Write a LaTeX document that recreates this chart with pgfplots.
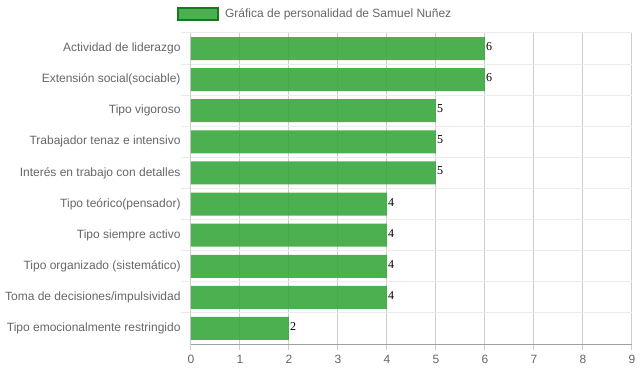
\documentclass[border=0pt]{standalone}
\usepackage{fontspec}
\setmainfont{Liberation Sans}
\newfontfamily\serifv{Liberation Serif}
\usepackage{pgfplots}
\pgfplotsset{compat=1.18}
\definecolor{barc}{RGB}{76,175,80}
\definecolor{barct}{RGB}{56,166,61}
\definecolor{legb}{RGB}{24,120,28}
\definecolor{tickc}{RGB}{102,102,102}
\definecolor{vgrid}{RGB}{205,205,205}
\definecolor{hgrid}{RGB}{235,235,235}
\definecolor{axc}{RGB}{160,160,160}
\begin{document}
\begin{tikzpicture}
\begin{axis}[
  at={(0,0)}, anchor=south west,
  scale only axis, width=441pt, height=311pt,
  xmin=0, xmax=9, ymin=-0.5, ymax=9.5, y dir=reverse,
  xbar, bar width=23pt,
  xtick={0,...,9},
  ytick={0,...,9},
  yticklabels={Actividad de liderazgo, Extensión social(sociable), Tipo vigoroso, Trabajador tenaz e intensivo, Interés en trabajo con detalles, Tipo teórico(pensador), Tipo siempre activo, Tipo organizado (sistemático), Toma de decisiones/impulsividad, Tipo emocionalmente restringido},
  minor ytick={-0.5,0.5,...,8.5},
  xmajorgrids, yminorgrids, ymajorgrids=false,
  major grid style={vgrid, line width=1pt},
  minor grid style={hgrid, line width=1pt},
  axis x line*=bottom, axis y line*=left,
  x axis line style={axc, line width=1pt, -},
  y axis line style={vgrid, line width=1pt, -},
  tick align=outside,
  x tick style={vgrid, line width=1pt, /pgfplots/major tick length=6pt},
  y tick style={hgrid, line width=1pt, /pgfplots/major tick length=0pt, /pgfplots/minor tick length=10pt},
  /pgf/number format/assume math mode=true,
  tick label style={font=\fontsize{12}{14}\selectfont, text=tickc},
  yticklabel style={inner sep=0pt, xshift=-6pt},
  xticklabel style={inner sep=0pt, yshift=-7pt},
  nodes near coords,
  nodes near coords style={font=\serifv\fontsize{12}{12}\selectfont, text=black, text opacity=1, anchor=west, inner sep=1pt, yshift=2pt},
  legend style={at={(axis description cs:-0.032,1.085)}, anchor=north west, draw=none, fill=none, inner sep=0pt, column sep=4pt, font=\fontsize{12}{14}\selectfont, text=tickc},
  legend image code/.code={\draw[fill=barc, draw=legb, line width=2pt, fill opacity=1] (0pt,-6pt) rectangle (40pt,6pt);},
]
\addplot[fill=barct, fill opacity=0.9, draw=none] coordinates {(6,0) (6,1) (5,2) (5,3) (5,4) (4,5) (4,6) (4,7) (4,8) (2,9)};
\addlegendentry{Gráfica de personalidad de Samuel Nuñez}
\end{axis}
\path (-191pt,-28pt) rectangle (448pt,344pt);
\end{tikzpicture}
\end{document}
